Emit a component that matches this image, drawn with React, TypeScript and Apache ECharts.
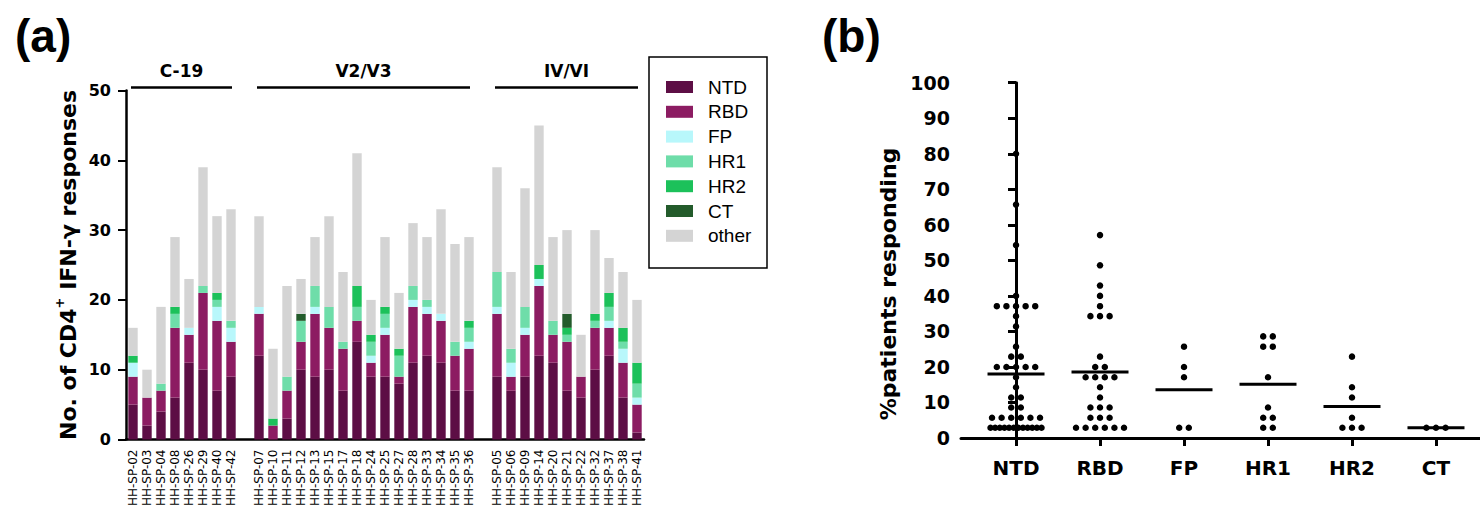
import React, { useEffect, useRef } from 'react';
import * as echarts from 'echarts';

// ---------- Panel (a) data ----------
const patientLabels = [
  'HH-SP-02', 'HH-SP-03', 'HH-SP-04', 'HH-SP-08', 'HH-SP-26', 'HH-SP-29', 'HH-SP-40', 'HH-SP-42', ' ',
  'HH-SP-07', 'HH-SP-10', 'HH-SP-11', 'HH-SP-12', 'HH-SP-13', 'HH-SP-15', 'HH-SP-17', 'HH-SP-18',
  'HH-SP-24', 'HH-SP-25', 'HH-SP-27', 'HH-SP-28', 'HH-SP-33', 'HH-SP-34', 'HH-SP-35', 'HH-SP-36', '  ',
  'HH-SP-05', 'HH-SP-06', 'HH-SP-09', 'HH-SP-14', 'HH-SP-20', 'HH-SP-21', 'HH-SP-22', 'HH-SP-32',
  'HH-SP-37', 'HH-SP-38', 'HH-SP-41',
];
const groupNames = ['C-19', 'V2/V3', 'IV/VI'];
const groupFirst = [0, 9, 26];
const groupLast = [7, 24, 36];

const ntd = [5, 2, 4, 6, 11, 10, 7, 9, null, 12, 0, 3, 10, 9, 10, 7, 14, 9, 9, 8, 11, 12, 11, 7, 7, null, 9, 7, 9, 12, 11, 7, 6, 10, 12, 6, 1];
const rbd = [4, 4, 3, 10, 4, 11, 10, 5, null, 6, 2, 4, 4, 9, 6, 6, 3, 2, 6, 1, 8, 6, 6, 5, 6, null, 9, 2, 6, 10, 4, 7, 3, 6, 4, 5, 4];
const fp = [2, 0, 0, 0, 1, 0, 2, 2, null, 1, 0, 0, 0, 1, 0, 0, 0, 1, 1, 0, 1, 1, 1, 0, 1, null, 1, 2, 1, 1, 0, 0, 0, 0, 1, 2, 1];
const hr1 = [0, 0, 1, 2, 0, 1, 1, 1, null, 0, 0, 2, 3, 3, 3, 1, 2, 2, 2, 3, 2, 1, 0, 2, 2, null, 5, 2, 3, 0, 2, 1, 0, 1, 2, 1, 2];
const hr2 = [1, 0, 0, 1, 0, 0, 1, 0, null, 0, 1, 0, 0, 0, 0, 0, 3, 1, 1, 1, 0, 0, 0, 0, 1, null, 0, 0, 0, 2, 0, 1, 0, 1, 2, 2, 3];
const ct = [0, 0, 0, 0, 0, 0, 0, 0, null, 0, 0, 0, 1, 0, 0, 0, 0, 0, 0, 0, 0, 0, 0, 0, 0, null, 0, 0, 0, 0, 0, 2, 0, 0, 0, 0, 0];
const other = [4, 4, 11, 10, 7, 17, 11, 16, null, 13, 10, 13, 5, 7, 13, 10, 19, 5, 10, 8, 9, 9, 15, 14, 12, null, 15, 11, 17, 20, 12, 12, 6, 12, 5, 8, 9];

const stackNames = ['NTD', 'RBD', 'FP', 'HR1', 'HR2', 'CT', 'other'];
const stackColors = ['#5D0E45', '#8C1C62', '#B8F7FB', '#6EDDA9', '#1CC15A', '#235B2B', '#D4D4D4'];
const stackValues = [ntd, rbd, fp, hr1, hr2, ct, other];

// ---------- Panel (b) data ----------
const regionNames = ['NTD', 'RBD', 'FP', 'HR1', 'HR2', 'CT'];
const ntdPct = [80, 65.7, 54.3, 40, 37.1, 37.1, 37.1, 37.1, 37.1, 34.3, 31.4, 25.7, 22.9, 22.9, 20, 20, 20, 20, 20, 17.1, 14.3, 11.4, 11.4, 8.6, 8.6, 5.7, 5.7, 5.7, 5.7, 5.7, 5.7, 2.9, 2.9, 2.9, 2.9, 2.9, 2.9, 2.9, 2.9, 2.9, 2.9, 2.9, 2.9];
const rbdPct = [57.1, 48.6, 42.9, 40, 37.1, 34.3, 34.3, 34.3, 22.9, 20, 20, 17.1, 17.1, 17.1, 17.1, 14.3, 11.4, 8.6, 8.6, 8.6, 5.7, 5.7, 5.7, 2.9, 2.9, 2.9, 2.9, 2.9, 2.9];
const fpPct = [25.7, 20, 17.1, 2.9, 2.9];
const hr1Pct = [28.6, 28.6, 25.7, 25.7, 17.1, 8.6, 5.7, 5.7, 2.9, 2.9];
const hr2Pct = [22.9, 14.3, 11.4, 5.7, 2.9, 2.9, 2.9];
const ctPct = [2.9, 2.9, 2.9];
const meanPct = [18, 18.6, 13.6, 15.1, 8.9, 2.9];
const regionValues = [ntdPct, rbdPct, fpPct, hr1Pct, hr2Pct, ctPct];

const BOLD = '"DejaVu Sans", sans-serif';
const ARIAL = '"Liberation Sans", Arial, sans-serif';

// layout (b)
const bLeft = 961;
const bWidth = 519;
const bMin = -0.655;
const bMax = 5.524;

function swarm(values: number[], catIndex: number) {
  const pxPerUnit = bWidth / (bMax - bMin);
  const groups = new Map<number, number>();
  values.forEach((v) => groups.set(v, (groups.get(v) || 0) + 1));
  const out: number[][] = [];
  groups.forEach((n, v) => {
    const spacingPx = n > 1 ? Math.min(9.6, 51 / (n - 1)) : 0;
    for (let i = 0; i < n; i++) {
      const offPx = (i - (n - 1) / 2) * spacingPx;
      out.push([catIndex + offPx / pxPerUnit, v]);
    }
  });
  return out;
}

export default function App() {
  const ref = useRef<HTMLDivElement>(null);
  useEffect(() => {
    if (!ref.current) return;
    const chart = echarts.init(ref.current, undefined, { renderer: 'svg' });

    const barSeries = stackNames.map((name, i) => ({
      name,
      type: 'bar',
      stack: 'resp',
      xAxisIndex: 0,
      yAxisIndex: 0,
      barWidth: 9.4,
      itemStyle: { color: stackColors[i] },
      data: stackValues[i],
    }));

    const dots: number[][] = [];
    regionValues.forEach((vals, i) => swarm(vals, i).forEach((d) => dots.push(d)));

    const option: any = {
      animation: false,
      backgroundColor: '#fff',
      grid: [
        { left: 126, top: 90.5, width: 518, height: 349 },
        { left: bLeft, top: 82.7, width: bWidth, height: 355.3 },
      ],
      legend: {
        data: stackNames,
        orient: 'vertical',
        left: 666,
        top: 77.5,
        padding: 0,
        itemWidth: 27,
        itemHeight: 12,
        itemGap: 5.8,
        icon: 'rect',
        selectedMode: false,
        textStyle: { fontSize: 19, lineHeight: 19, fontFamily: ARIAL, color: '#000', padding: [0, 0, 0, 10] },
      },
      xAxis: [
        {
          type: 'category',
          gridIndex: 0,
          data: patientLabels,
          axisLine: { lineStyle: { color: '#000', width: 2.5 } },
          axisTick: { alignWithLabel: true, interval: 0, length: 7, lineStyle: { color: '#000', width: 2 } },
          axisLabel: { interval: 0, rotate: 90, fontSize: 12, fontFamily: '"DejaVu Sans", sans-serif', color: '#000', margin: 10 },
          splitLine: { show: false },
        },
        {
          type: 'value',
          gridIndex: 1,
          min: bMin,
          max: bMax,
          axisLine: { lineStyle: { color: '#000', width: 3 } },
          axisTick: { show: true, length: 8, customValues: [0, 1, 2, 3, 4, 5], lineStyle: { color: '#000', width: 3 } },
          axisLabel: {
            customValues: [0, 1, 2, 3, 4, 5],
            formatter: (v: number) => regionNames[Math.round(v)] || '',
            fontSize: 20, fontWeight: 'bold', fontFamily: BOLD, color: '#000', margin: 20,
          },
          splitLine: { show: false },
        },
      ],
      yAxis: [
        {
          type: 'value',
          gridIndex: 0,
          min: 0,
          max: 50,
          interval: 10,
          axisLine: { show: true, lineStyle: { color: '#000', width: 2.5 } },
          axisTick: { show: true, length: 8, lineStyle: { color: '#000', width: 2 } },
          axisLabel: { fontSize: 16, fontWeight: 'bold', fontFamily: BOLD, color: '#000', margin: 15 },
          splitLine: { show: false },
        },
        {
          type: 'value',
          gridIndex: 1,
          min: 0,
          max: 100,
          interval: 10,
          axisLine: { show: true, lineStyle: { color: '#000', width: 3 } },
          axisTick: { show: true, length: 8, lineStyle: { color: '#000', width: 3 } },
          axisLabel: { fontSize: 19, fontWeight: 'bold', fontFamily: BOLD, color: '#000', margin: 11 },
          splitLine: { show: false },
        },
      ],
      series: [
        ...barSeries,
        {
          name: 'patients',
          type: 'scatter',
          xAxisIndex: 1,
          yAxisIndex: 1,
          symbol: 'circle',
          symbolSize: 6.5,
          itemStyle: { color: '#000', opacity: 1 },
          data: dots,
          z: 3,
        },
        {
          name: 'mean',
          type: 'scatter',
          xAxisIndex: 1,
          yAxisIndex: 1,
          symbol: 'rect',
          symbolSize: [57, 3],
          itemStyle: { color: '#000', opacity: 1 },
          data: meanPct.map((m, i) => [i, m]),
          z: 4,
        },
      ],
    };
    chart.setOption(option);

    const graphics: any[] = [
      { type: 'text', x: 15, y: 36, style: { text: '(a)', fontSize: 46, fontWeight: 'bold', fontFamily: ARIAL, fill: '#000', align: 'left', verticalAlign: 'middle' } },
      { type: 'text', x: 822, y: 36, style: { text: '(b)', fontSize: 46, fontWeight: 'bold', fontFamily: ARIAL, fill: '#000', align: 'left', verticalAlign: 'middle' } },
      {
        type: 'text', x: 68, y: 265, rotation: Math.PI / 2,
        style: {
          text: '{a|No. of CD4}{s|+}{a| IFN-γ responses}',
          align: 'center', verticalAlign: 'middle', fill: '#000',
          rich: {
            a: { fontSize: 22, fontWeight: 'bold', fontFamily: BOLD, lineHeight: 30, fill: '#000' },
            s: { fontSize: 13, fontWeight: 'bold', fontFamily: BOLD, verticalAlign: 'top', lineHeight: 16, fill: '#000' },
          },
        },
      },
      {
        type: 'text', x: 888, y: 284, rotation: Math.PI / 2,
        style: { text: '%patients responding', fontSize: 22, fontWeight: 'bold', fontFamily: BOLD, fill: '#000', align: 'center', verticalAlign: 'middle' },
      },
      { type: 'rect', shape: { x: 649, y: 57, width: 118, height: 211 }, style: { fill: 'none', stroke: '#000', lineWidth: 1.5 } },
    ];
    groupNames.forEach((g, i) => {
      const x1 = chart.convertToPixel({ xAxisIndex: 0 }, groupFirst[i]) as number;
      const x2 = chart.convertToPixel({ xAxisIndex: 0 }, groupLast[i]) as number;
      const a = x1 - 2;
      const b = x2 + 1;
      graphics.push({ type: 'line', shape: { x1: a, y1: 87.5, x2: b, y2: 87.5 }, style: { stroke: '#000', lineWidth: 2.5 } });
      graphics.push({ type: 'text', x: (a + b) / 2, y: 71, style: { text: g, fontSize: 17, fontWeight: 'bold', fontFamily: BOLD, fill: '#000', align: 'center', verticalAlign: 'middle' } });
    });
    chart.setOption({ graphic: graphics });

    return () => chart.dispose();
  }, []);
  return <div ref={ref} style={{ position: 'absolute', left: 0, top: 0, width: 1480, height: 513 }} />;
}
